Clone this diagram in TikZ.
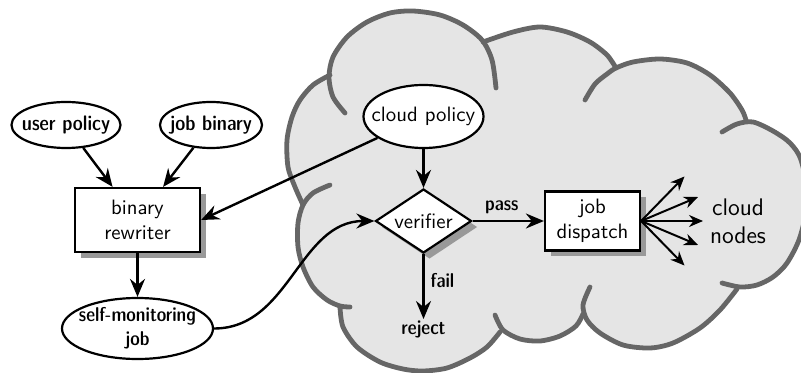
\documentclass[tikz,border=0pt]{standalone}
\usetikzlibrary{shapes.geometric,arrows.meta,shadows}
\begin{document}
\begin{tikzpicture}[x=0.5pt,y=-0.5pt,
  font=\sffamily\fontsize{10.4pt}{12.5pt}\selectfont,
  semib/.style={font=\sffamily\fontsize{10.5pt}{12.5pt}\fontseries{sbc}\selectfont},
  semibs/.style={font=\sffamily\fontsize{10pt}{12pt}\fontseries{sbc}\selectfont},
  ell/.style={ellipse, draw, fill=white, line width=1.1pt, inner xsep=-40pt, inner ysep=-15pt, align=center},
  boxnode/.style={rectangle, draw, fill=white, line width=1.1pt, inner sep=0pt, align=center,
     drop shadow={shadow xshift=3pt, shadow yshift=-3pt, fill=black!40, opacity=1}},
  dia/.style={diamond, draw, fill=white, line width=1.1pt, inner xsep=-30pt, inner ysep=-15pt,
     drop shadow={shadow xshift=3pt, shadow yshift=-3pt, fill=black!40, opacity=1}},
  conn/.style={line width=1.2pt, -{Stealth[length=9pt,width=7.5pt,inset=3pt]}},
  fan/.style={line width=1pt, -{Stealth[length=7pt,width=6pt,inset=2.3pt]}},
  cloudline/.style={draw=black!60, line width=2.4pt, line cap=round, line join=round},
  cloudfill/.style={fill=black!10},
]
\useasboundingbox (0,0) rectangle (801,373);
\clip (0,0) rectangle (801,373);

% ---- cloud fill ----
\path[cloudfill]
  plot[smooth] coordinates {(330,75) (313,85) (300,100) (292,117) (287,140) (288,167) (295,187) (303,205)}
  -- plot[smooth] coordinates {(303,205) (298,223) (298,247) (303,267) (313,287) (327,300) (340,307)}
  -- plot[smooth] coordinates {(340,307) (343,327) (357,347) (380,362) (403,369) (423,371) (447,368) (470,358) (487,347) (500,332)}
  -- plot[smooth] coordinates {(500,332) (520,339) (540,341) (560,336) (576,326) (583,314)}
  -- plot[smooth] coordinates {(583,314) (587,322) (600,333) (623,345) (650,348) (673,343) (700,328) (720,310) (737,289)}
  -- plot[smooth] coordinates {(737,289) (757,285) (773,277) (787,263) (800,237) (808,198) (801,160) (790,143) (773,131) (758,123) (746,121)}
  -- plot[smooth] coordinates {(746,121) (742,110) (730,93) (710,75) (687,63) (660,59) (633,62) (616,68)}
  -- plot[smooth] coordinates {(616,68) (607,55) (590,42) (567,32) (540,27) (513,32) (483,42)}
  -- plot[smooth] coordinates {(483,42) (463,25) (440,15) (413,11) (390,13) (367,22) (347,37) (333,57) (330,75)}
  -- cycle;

% ---- cloud outline bumps (with inner hooks) ----
\draw[cloudline] plot[smooth] coordinates {(345,113) (333,97) (329,77) (333,57) (347,37) (367,22) (390,13) (413,11) (440,15) (463,25) (482,40) (492,60) (496,88)};
\draw[cloudline] plot[smooth] coordinates {(483,42) (513,32) (540,27) (567,32) (590,42) (607,55) (616,68)};
\draw[cloudline] plot[smooth] coordinates {(585,100) (595,84) (607,74) (616,68) (633,62) (660,59) (687,63) (710,75) (730,93) (742,110) (746,120)};
\draw[cloudline] plot[smooth] coordinates {(722,132) (737,124) (753,122) (773,131) (790,143) (801,160) (808,198) (800,237) (787,263) (773,277) (757,285) (740,287) (722,283)};
\draw[cloudline] plot[smooth] coordinates {(737,289) (720,310) (700,328) (673,343) (650,348) (623,345) (600,333) (587,320) (583,305) (590,287)};
\draw[cloudline] plot[smooth] coordinates {(495,315) (503,330) (520,339) (540,341) (560,336) (576,326) (583,314)};
\draw[cloudline] plot[smooth] coordinates {(340,307) (343,327) (357,347) (380,362) (403,369) (423,371) (447,368) (470,358) (487,347) (500,332)};
\draw[cloudline] plot[smooth] coordinates {(330,185) (313,193) (303,205) (298,223) (298,247) (303,267) (313,287) (327,300) (340,306) (350,307)};
\draw[cloudline] plot[smooth] coordinates {(330,75) (313,85) (300,100) (292,117) (287,140) (288,167) (295,187) (303,205)};

% ---- nodes ----
\node[ell, semib, minimum width=54.5pt, minimum height=23pt] (up) at (66,125) {user policy};
\node[ell, semib, minimum width=51pt, minimum height=23pt] (jb) at (211,125) {job binary};
\node[boxnode, minimum width=62.5pt, minimum height=32pt] (br) at (137.5,220) {binary\\rewriter};
\node[ell, semibs, minimum width=75.5pt, minimum height=30.5pt] (smj) at (137.5,328.5) {self-monitoring\\job};
\node[ell, minimum width=60pt, minimum height=31.5pt] (cp) at (423.5,116.5) {cloud policy};
\node[dia, minimum width=48pt, minimum height=32pt] (ver) at (423.5,221) {verifier};
\node[boxnode, minimum width=47.5pt, minimum height=29.5pt] (disp) at (592.5,221) {job\\dispatch};
\node[semibs, anchor=north, inner sep=1pt] (rej) at (423.5,319) {reject};
\node[font=\sffamily\large, align=center] (cn) at (738,221) {cloud\\nodes};

% ---- connectors ----
\draw[conn] (up) -- (br);
\draw[conn] (jb) -- (br);
\draw[conn] (cp) -- (br.east);
\draw[conn] (br) -- (smj);
\draw[conn] (smj.east) to[out=0,in=180] (ver.west);
\draw[conn] (cp) -- (ver);
\draw[conn] (ver) -- node[semibs, anchor=west, pos=0.4, inner sep=3pt] (faillbl) {fail} (rej);
\draw[conn] (ver) -- node[semibs, anchor=south, pos=0.41, inner sep=3pt] (passlbl) {pass} (disp);

\coordinate (f1) at (684.5,176.5);
\coordinate (f2) at (698,197);
\coordinate (f3) at (703,221);
\coordinate (f4) at (698,245);
\coordinate (f5) at (684.5,265.5);
\foreach \c in {f1,f2,f3,f4,f5} \draw[fan] (disp.east) -- (\c);
\end{tikzpicture}
\end{document}
